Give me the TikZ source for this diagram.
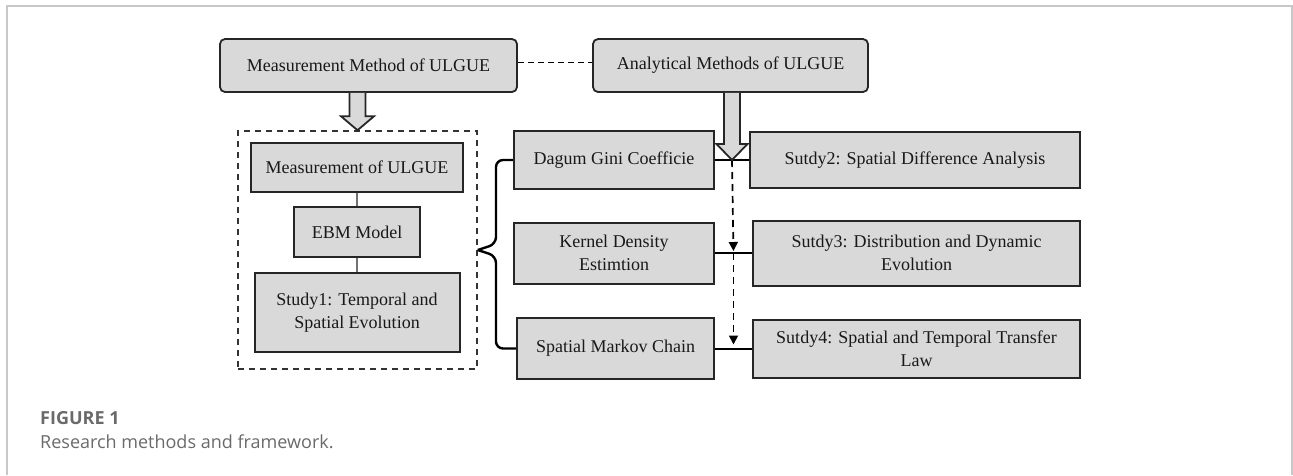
\documentclass[tikz,border=0pt]{standalone}
\usepackage{fontspec}
\setmainfont{Liberation Serif}
\newfontfamily\captionfont{Open Sans}
\usetikzlibrary{arrows.meta, calc}
\tikzset{>={Triangle[length=9pt,width=9pt]}}
\definecolor{boxgray}{HTML}{D9D9D9}
\definecolor{framegray}{HTML}{C8C8C8}
\definecolor{capgray}{HTML}{6A6A6A}
\tikzset{
  methodbox/.style={draw=black!85, line width=1.8pt, fill=boxgray, rounded corners=5pt, minimum height=53pt, align=center},
  stepbox/.style={draw=black!85, line width=2pt, fill=boxgray, align=center},
  blockarrow/.style={draw=black!85, line width=1.8pt, fill=boxgray, line join=miter},
}

\begin{document}
\begin{tikzpicture}[x=1pt, y=-1pt, inner sep=0pt, font=\fontsize{18}{23}\selectfont, text=black!90]
  \useasboundingbox (0,0) rectangle (1293,475);
  \draw[framegray, line width=1.5pt] (7,475) -- (7,6) -- (1292,6) -- (1292,475);

  % top row
  \node[methodbox, minimum width=297pt] (measmethod) at (368.5, 65.5) {Measurement Method of ULGUE};
  \node[methodbox, minimum width=275pt] (anamethod) at (730.5, 65.5) {Analytical Methods of ULGUE};
  \draw[line width=1.8pt, dash pattern=on 6pt off 4pt] ([yshift=3pt]measmethod.east) -- ([yshift=3pt]anamethod.west);

  % measurement part
  \node[draw=black!80, line width=1.5pt, dash pattern=on 6pt off 5pt, minimum width=239pt, minimum height=238pt] (group) at (357.5, 250) {};
  \node[stepbox, minimum width=212pt, minimum height=49pt] (measulgue) at (357, 167.5) {Measurement of ULGUE};
  \node[stepbox, minimum width=126pt, minimum height=50pt] (ebm) at (357, 232) {EBM Model};
  \node[stepbox, minimum width=205pt, minimum height=79pt] (study1) at (357, 312.5) {Study1: Temporal and\\Spatial Evolution};
  \draw[black!55, line width=1.2pt] (measulgue) -- (ebm);
  \draw[black!55, line width=1.2pt] (ebm) -- (study1);

  % analytical part
  \node[stepbox, minimum width=200pt, minimum height=58pt] (dagum) at (614, 160) {Dagum Gini Coefficie};
  \node[stepbox, minimum width=330pt, minimum height=56pt] (sutdy2) at (915, 160) {Sutdy2: Spatial Difference Analysis};
  \node[stepbox, minimum width=200pt, minimum height=61pt] (kernel) at (614, 253) {Kernel Density\\Estimtion};
  \node[stepbox, minimum width=327pt, minimum height=65pt] (sutdy3) at (916.5, 253) {Sutdy3: Distribution and Dynamic\\Evolution};
  \node[stepbox, minimum width=197pt, minimum height=61pt] (markov) at (615.5, 348.5) {Spatial Markov Chain};
  \node[stepbox, minimum width=327pt, minimum height=58pt] (sutdy4) at (916.5, 348.5) {Sutdy4: Spatial and Temporal Transfer\\Law};
  \draw[line width=2pt] (dagum) -- (sutdy2);
  \draw[line width=2pt] (kernel) -- (sutdy3);
  \draw[line width=2pt] (markov) -- (sutdy4);
  \coordinate (j1) at ($(dagum.east)!0.5!(sutdy2.west)$);
  \coordinate (j2) at ($(kernel.east)!0.5!(sutdy3.west)$);
  \coordinate (j3) at ($(markov.east)!0.5!(sutdy4.west)$);
  \draw[->, line width=1.7pt, dash pattern=on 7pt off 5pt, shorten >=2pt] (j1) -- (j2);
  \draw[->, line width=1.7pt, dash pattern=on 7pt off 5pt, shorten >=4pt] (j2) -- (j3);

  % hollow arrows
  \coordinate (a1) at (group.north |- measmethod.south);
  \draw[blockarrow] ([xshift=-8pt]a1) -- ([xshift=-8pt, yshift=14pt]group.north)
    -- ([xshift=-16.5pt, yshift=14pt]group.north) -- (group.north)
    -- ([xshift=16.5pt, yshift=14pt]group.north) -- ([xshift=8pt, yshift=14pt]group.north)
    -- ([xshift=8pt]a1);
  \coordinate (a2) at (j1 |- anamethod.south);
  \draw[blockarrow] ([xshift=-8pt]a2) -- ([xshift=-8pt, yshift=16pt]j1)
    -- ([xshift=-15.5pt, yshift=16pt]j1) -- (j1)
    -- ([xshift=15.5pt, yshift=16pt]j1) -- ([xshift=8pt, yshift=16pt]j1)
    -- ([xshift=8pt]a2);

  % brace
  \coordinate (bx) at (496, 0);
  \draw[line width=2.4pt, rounded corners=7pt] (dagum.west) -- (bx |- dagum.west)
    -- ([yshift=6pt]bx |- group.east) -- (group.east);
  \draw[line width=2.4pt, rounded corners=7pt] (group.east) -- ([yshift=-6pt]bx |- group.east)
    -- (bx |- markov.west) -- (markov.west);

  % caption
  \node[anchor=base west, text=capgray, font=\captionfont\bfseries\fontsize{18}{22}\selectfont] (figlabel) at (40, 424) {FIGURE 1};
  \node[anchor=base west, text=capgray, font=\captionfont\fontsize{18}{22}\selectfont] (figtext) at (40, 448) {Research methods and framework.};
\end{tikzpicture}
\end{document}
